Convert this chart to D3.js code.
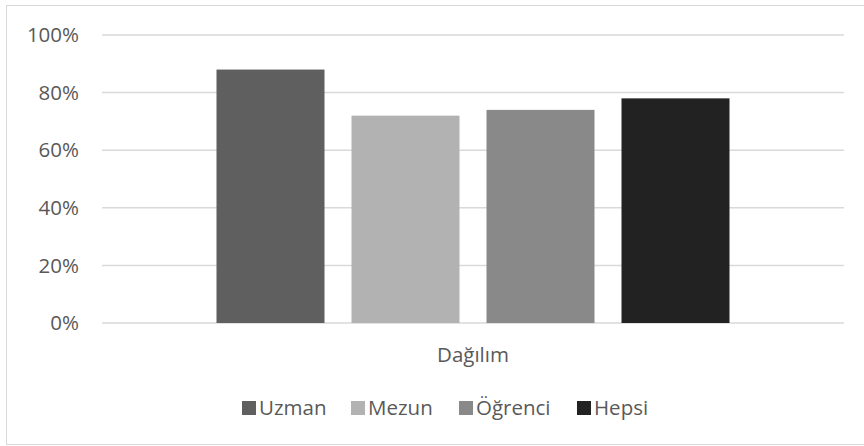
<!DOCTYPE html>
<html>
<head>
<meta charset="utf-8">
<script src="https://cdn.jsdelivr.net/npm/d3@7"></script>
<style>
  body { margin: 0; background: #fff; }
  svg text { font-family: "Open Sans", "Noto Sans", sans-serif; fill: #595959; }
</style>
</head>
<body>
<svg id="chart" width="864" height="446"></svg>
<script>
"use strict";
var categories = ["Dağılım"];
var seriesNames = ["Uzman", "Mezun", "Öğrenci", "Hepsi"];
var seriesValues = [0.88, 0.72, 0.74, 0.78];
var seriesColors = ["#5f5f5f", "#b2b2b2", "#898989", "#222222"];
var yTicks = [0, 0.2, 0.4, 0.6, 0.8, 1.0];

var svg = d3.select("#chart");
var margin = {left: 102, right: 20, top: 35, bottom: 123};
var width = 864 - margin.left - margin.right;
var height = 446 - margin.top - margin.bottom;
var fontSize = "20.5px";

// outer frame
svg.append("rect")
  .attr("x", 6.5).attr("y", 5.5)
  .attr("width", 870).attr("height", 439)
  .attr("fill", "none").attr("stroke", "#d9d9d9").attr("stroke-width", 1);

var g = svg.append("g").attr("transform", "translate(" + margin.left + "," + margin.top + ")");

var y = d3.scaleLinear().domain([0, 1]).range([height, 0]);
var x0 = d3.scaleBand().domain(categories).range([0, width]);
var x1 = d3.scaleBand().domain(seriesNames)
  .range([x0.bandwidth() / 2 - 270, x0.bandwidth() / 2 + 270])
  .paddingInner(0.2).paddingOuter(0.1);

// gridlines
g.selectAll(".grid").data(yTicks).enter().append("line")
  .attr("x1", 0).attr("x2", width)
  .attr("y1", function (d) { return y(d); })
  .attr("y2", function (d) { return y(d); })
  .attr("stroke", "#d9d9d9").attr("stroke-width", 1.5);

// y labels
g.selectAll(".ylab").data(yTicks).enter().append("text")
  .attr("x", -23)
  .attr("y", function (d) { return y(d); })
  .attr("dy", "0.35em")
  .attr("text-anchor", "end")
  .style("font-size", fontSize)
  .text(d3.format(".0%"));

// bars
categories.forEach(function (c) {
  g.selectAll(".bar").data(seriesValues).enter().append("rect")
    .attr("x", function (d, i) { return x0(c) + x1(seriesNames[i]); })
    .attr("width", x1.bandwidth())
    .attr("y", function (d) { return y(d); })
    .attr("height", function (d) { return height - y(d); })
    .attr("fill", function (d, i) { return seriesColors[i]; });

  g.append("text")
    .attr("x", x0(c) + x0.bandwidth() / 2)
    .attr("y", height + 39)
    .attr("text-anchor", "middle")
    .style("font-size", fontSize)
    .text(c);
});

// legend
var legendX = [242, 351, 459, 577];
var legend = svg.append("g");
seriesNames.forEach(function (s, i) {
  legend.append("rect")
    .attr("x", legendX[i]).attr("y", 401)
    .attr("width", 14).attr("height", 14)
    .attr("fill", seriesColors[i]);
  legend.append("text")
    .attr("x", legendX[i] + 17).attr("y", 408)
    .attr("dy", "0.35em")
    .style("font-size", fontSize)
    .text(s);
});
</script>
</body>
</html>
